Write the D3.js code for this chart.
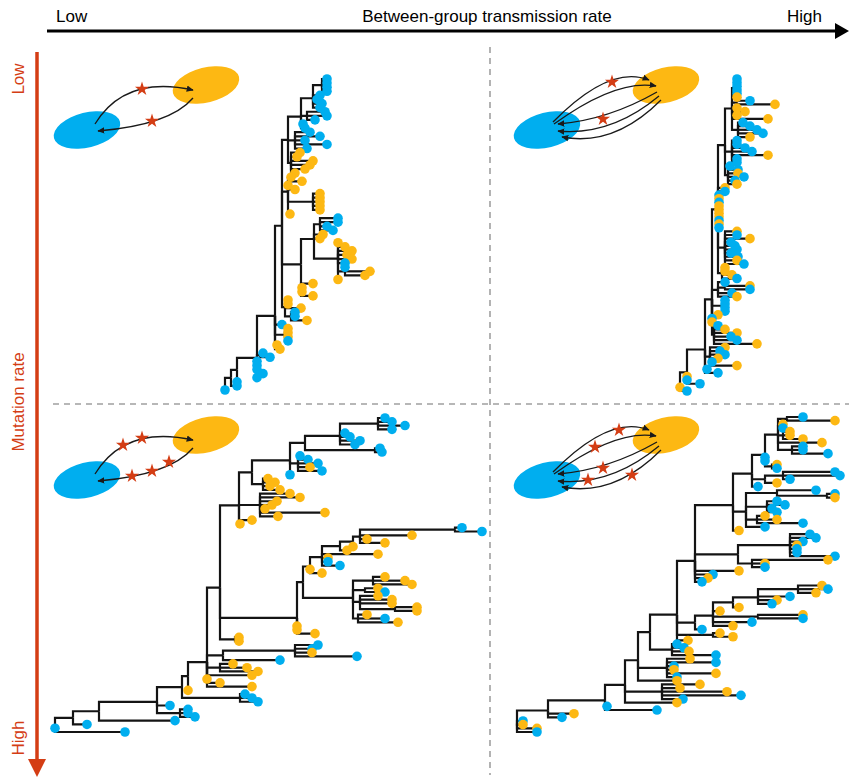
<!DOCTYPE html>
<html>
<head>
<meta charset="utf-8">
<script src="https://cdn.jsdelivr.net/npm/d3@7"></script>
<style>
  html, body { margin: 0; padding: 0; background: #fff; }
  svg { display: block; }
</style>
</head>
<body>
<svg id="chart" width="849" height="778"></svg>
<script>
// ---------------------------------------------------------------------------
// Data
// ---------------------------------------------------------------------------
// Axis labels
const transmissionLabels = ["Low", "Between-group transmission rate", "High"];
const mutationLabels = ["Low", "Mutation rate", "High"];

// Tip group of every sampled sequence: b = group 1 (blue), o = group 2 (orange)
const groupKeys = ["b", "o"];
const groupColors = ["#00AEEF", "#FDB813"];

// Number of between-group transmissions and mutations drawn in each inset
// (order: low/low, high/low, low/high, high/high  as transmission/mutation)
const transmissionsAB = [1, 2, 1, 2];
const transmissionsBA = [1, 3, 1, 3];
const mutationMarks = [2, 2, 5, 5];

// Phylogenies in Newick form. Every node carries its divergence from the root
// (after the colon) instead of a branch length.

// low transmission, low mutation
const treeLowLow =
  "((((((" +
  "((((b:102,b:102,b:102,b:102):97,b:95,b:92,b:97,b:95):88,(b:100,b:102,b:90):82,b:78,b:80):76," +
  "(b:85,b:95,b:80,b:102,b:82):70,(o:75,o:72,o:88,o:85,o:80,o:70):66):63," +
  "(o:66,o:77,o:63,o:70,(o:95,o:95,o:95,o:95,o:95):88,o:65):63," +
  "(((b:113,b:113,b:102,b:108):95,o:98,o:95,(o:113,o:120,o:127,o:122,o:127,b:120,(b:120,o:145,o:140):120,o:113):113):89," +
  "(o:88,o:77,o:77,o:88):76):76," +
  "(o:63,o:63,o:76,(b:70,b:70,o:82):66):60" +
  "):57,b:57,(o:63,o:63,o:63,b:63):60,o:52,o:55):50," +
  "(b:38,b:45):35,b:32,b:32,(b:32,b:38):32,b:32):32," +
  "b:12):12,b:12):6,b:0):0";

// high transmission, low mutation
const treeHighLow =
  "(((((" +
  "(((b:57,b:57,b:57,b:57,b:57,o:57):55,(b:70,o:95):57,(o:57,o:65,o:57,o:88):54,(b:63,b:70,b:77,b:83,o:70):58):52," +
  "(b:57,b:57,b:65,b:72,o:88,b:57,b:57):52,(b:50,b:58,o:58,b:64,b:55,o:57):48):45," +
  "o:45,b:45,(b:39,o:39,b:39,o:39,o:39,o:39,o:39,b:39,o:39,b:39):38," +
  "(o:57,b:57,o:70,b:51,b:55,b:57,b:51,b:58,o:57,b:64):45,(o:45,o:45,o:52,b:57):42):38," +
  "(b:45,(o:70,b:70):45,b:52,o:57):38,(b:45,b:45,b:45,b:45):44,o:38,b:32,o:32," +
  "(b:38,o:45,o:57,b:51,b:57,o:77):34):32," +
  "(o:45,b:40,b:45,o:38,b:32,o:57):30,b:27,b:38):25," +
  "o:7,b:7,b:20):7,o:0,b:7):0";

// low transmission, high mutation
const cladeUpper =
  "((((((b:330,b:337,b:350,b:337):323,b:290,b:295,b:305,b:300):285,(b:325,b:327):320):250," +
  "(b:245,b:253,b:263,o:255,b:267):243,b:235):235,(o:213,o:220,o:215,o:225):208):197," +
  "(o:235,o:245,o:222,o:217,o:210,o:270,o:223):205,o:197,o:185):184";
const cladeMiddle =
  "((((((((b:407,b:427):400,o:357,o:312,o:330):305,o:298):298,o:292):285,o:323,o:273,b:273,b:285):267,o:255,o:267):255," +
  "((o:330,o:350,o:357):318,(o:323,b:330):310,(o:323,o:337,o:337,(o:362,o:362):340):305,(o:312,b:330,o:343):303):298):248," +
  "o:242,o:242,o:260):242";
const treeLowHigh =
  "(((((((" +
  "(" + cladeUpper + "," + cladeMiddle + ",(o:184,o:184):180):165," +
  "((b:263,b:257,o:257,b:302):240,b:225):168,(o:178,o:192,o:203):165,o:197,o:152,o:165,o:197):152," +
  "o:133):133," +
  "(b:190,b:197,b:203):185):127," +
  "b:115,(b:133,b:133,b:140):125):102," +
  "b:120):44," +
  "b:32):18," +
  "b:0,b:70):0";

// high transmission, high mutation
const cladeTop =
  "(((b:286,o:318):270,(o:266,b:266):263,(o:273,o:273,o:286):266,o:305,(b:286,b:286,b:311):275):261," +
  "b:248,b:248,(o:260,b:260):255):248";
const cladeTopB = "((b:318,b:323,b:273):266,o:260):248";
const cladeSide = "((b:299,(b:318,o:318):310):260,(b:260,b:268,b:255,b:260):250,(o:248,o:260,b:286):240,b:248):229";
const cladeRight = "((b:293,b:299,b:286,o:280,b:280,b:280,b:318):273,(o:311,o:248,b:248):235):221";
const cladeLower = "(((((o:305,b:311,o:299):281,b:273,o:260,b:255):241,o:222):216,o:203,(o:286,b:286):241,b:235,o:216):196,b:185):178";
const treeHighHigh =
  "((((((((" +
  "((" + cladeTop + "," + cladeTopB + ",b:241):235," + cladeSide + ",o:222):216," + cladeRight + ",o:222,b:196,o:191,b:185):178," +
  cladeLower + ",(o:203,o:216):196,o:171):160," +
  "(b:160,b:167,o:172,b:199):155):133," +
  "(o:173,b:199,b:157,o:157,o:199,b:160):150,o:160):121," +
  "(o:183,o:163,o:210,b:224,b:166):145,o:160):108," +
  "b:90,b:140):88," +
  "o:57,b:45):31," +
  "b:6,o:6,o:20,b:20):0";

const treeStrings = [treeLowLow, treeHighLow, treeLowHigh, treeHighHigh];

// ---------------------------------------------------------------------------
// Layout
// ---------------------------------------------------------------------------
const W = 849, H = 778;
const red = "#D43D14";
const font = "'Liberation Sans', Arial, Helvetica, sans-serif";

// Where each tree sits: root position and the vertical band of its tips
const panels = [
  { rootX: 225, yTop: 79, yBottom: 390, dx: 0,   dy: 0 },
  { rootX: 680, yTop: 79, yBottom: 391, dx: 460, dy: 0 },
  { rootX: 55,  yTop: 418, yBottom: 732, dx: 0,   dy: 350 },
  { rootX: 517, yTop: 417, yBottom: 732, dx: 460, dy: 350 }
];
const pxPerUnit = 1;

const color = d3.scaleOrdinal().domain(groupKeys).range(groupColors);

const svg = d3.select("#chart");

// ---------------------------------------------------------------------------
// Newick reader (node value = divergence from root)
// ---------------------------------------------------------------------------
function parseNewick(str) {
  const s = str.replace(/\s+/g, "");
  let i = 0;
  function readNode() {
    const node = { name: "", depth: 0, children: [] };
    if (s[i] === "(") {
      i++;
      for (;;) {
        node.children.push(readNode());
        const c = s[i++];
        if (c === ")") break;
      }
    }
    let start = i;
    while (i < s.length && !":,()".includes(s[i])) i++;
    node.name = s.slice(start, i);
    if (s[i] === ":") {
      i++;
      start = i;
      while (i < s.length && !",()".includes(s[i])) i++;
      node.depth = +s.slice(start, i);
    }
    return node;
  }
  return readNode();
}

// ---------------------------------------------------------------------------
// Background guides
// ---------------------------------------------------------------------------
const guides = svg.append("g").attr("stroke", "#a0a0a0").attr("stroke-width", 1.6)
  .attr("stroke-dasharray", "6,5");
guides.append("line").attr("x1", 490).attr("x2", 490).attr("y1", 47).attr("y2", 775);
guides.append("line").attr("x1", 53).attr("x2", W).attr("y1", 404).attr("y2", 404);

// ---------------------------------------------------------------------------
// Axes (arrows with labels)
// ---------------------------------------------------------------------------
const topAxis = svg.append("g");
topAxis.append("line").attr("x1", 47).attr("x2", 838).attr("y1", 31).attr("y2", 31)
  .attr("stroke", "#000").attr("stroke-width", 3.2);
topAxis.append("path").attr("d", "M835,23L849,31L835,39Z").attr("fill", "#000");
const topPos = [{ x: 56, a: "start" }, { x: 487, a: "middle" }, { x: 822, a: "end" }];
topAxis.selectAll("text").data(transmissionLabels).join("text")
  .attr("x", (d, i) => topPos[i].x).attr("y", 22)
  .attr("text-anchor", (d, i) => topPos[i].a)
  .attr("font-family", font).attr("font-size", 17).attr("fill", "#000")
  .text(d => d);

const leftAxis = svg.append("g");
leftAxis.append("line").attr("x1", 37).attr("x2", 37).attr("y1", 52).attr("y2", 762)
  .attr("stroke", red).attr("stroke-width", 3.5);
leftAxis.append("path").attr("d", "M28,759L46,759L37,777Z").attr("fill", red);
const leftPos = [{ y: 79 }, { y: 402 }, { y: 738 }];
leftAxis.selectAll("text").data(mutationLabels).join("text")
  .attr("transform", (d, i) => `translate(24,${leftPos[i].y}) rotate(-90)`)
  .attr("text-anchor", "middle")
  .attr("font-family", font).attr("font-size", 17).attr("fill", red)
  .text(d => d);

// ---------------------------------------------------------------------------
// Inset schematics: two host groups with transmission arrows and mutations
// ---------------------------------------------------------------------------
const defs = svg.append("defs");
defs.append("marker").attr("id", "head").attr("viewBox", "0 -5 10 10")
  .attr("refX", 9).attr("refY", 0).attr("markerWidth", 7).attr("markerHeight", 7)
  .attr("markerUnits", "userSpaceOnUse").attr("orient", "auto")
  .append("path").attr("d", "M0,-4.5L10,0L0,4.5Z").attr("fill", "#1a1a1a");

// arrow geometry (local coordinates of the first inset)
const arrowsAB1 = [[[95, 124], [125, 75], [193, 90]]];
const arrowsAB2 = [
  [[93, 122], [150, 64], [189, 80]],
  [[94, 124], [156, 79], [196, 86]]
];
const arrowsBA1 = [[[193, 98], [170, 125], [98, 131]]];
const arrowsBA3 = [
  [[197, 92], [148, 120], [98, 124]],
  [[199, 96], [151, 136], [98, 131]],
  [[201, 100], [154, 147], [102, 137]]
];
// mutation positions per inset
const starSpots = [
  [[142, 89], [152, 121]],
  [[152, 82], [143, 119]],
  [[123, 95], [142, 88], [169, 112], [152, 121], [132, 126]],
  [[159, 80], [135, 97], [143, 118], [172, 125], [128, 130]]
];

const star = d3.symbol().type(d3.symbolStar).size(62)();

panels.forEach((p, k) => {
  const g = svg.append("g").attr("transform", `translate(${p.dx},${p.dy})`);
  g.append("ellipse").attr("cx", 87).attr("cy", 130).attr("rx", 34).attr("ry", 17.5)
    .attr("transform", "rotate(-14 87 130)").attr("fill", color("b"));
  g.append("ellipse").attr("cx", 206).attr("cy", 85).attr("rx", 34).attr("ry", 17.5)
    .attr("transform", "rotate(-14 206 85)").attr("fill", color("o"));
  const ab = transmissionsAB[k] > 1 ? arrowsAB2 : arrowsAB1;
  const ba = transmissionsBA[k] > 1 ? arrowsBA3 : arrowsBA1;
  const q = d => `M${d[0][0]},${d[0][1]}Q${d[1][0]},${d[1][1]} ${d[2][0]},${d[2][1]}`;
  g.selectAll("path.arr").data(ab.concat(ba)).join("path").attr("class", "arr")
    .attr("d", q).attr("fill", "none").attr("stroke", "#1a1a1a").attr("stroke-width", 1.3)
    .attr("marker-end", "url(#head)");
  g.selectAll("path.mut").data(starSpots[k].slice(0, mutationMarks[k])).join("path").attr("class", "mut")
    .attr("d", star).attr("transform", d => `translate(${d[0]},${d[1]})`)
    .attr("fill", red);
});

// ---------------------------------------------------------------------------
// Trees (rectangular layout; an internal node sits at the mean height of its children)
// ---------------------------------------------------------------------------
panels.forEach((p, k) => {
  const root = d3.hierarchy(parseNewick(treeStrings[k]),
    d => (d.children && d.children.length ? d.children : null));
  const leaves = root.leaves();
  const y = d3.scalePoint().domain(d3.range(leaves.length)).range([p.yTop, p.yBottom]);
  const maxDepth = d3.max(leaves, d => d.data.depth);
  const x = d3.scaleLinear().domain([0, maxDepth]).range([p.rootX, p.rootX + maxDepth * pxPerUnit]);

  leaves.forEach((l, i) => { l.py = y(i); });
  root.eachAfter(n => {
    if (n.children) n.py = d3.mean(n.children, c => c.py);
  });
  root.each(n => { n.px = x(n.data.depth); });

  const g = svg.append("g");
  g.append("g").selectAll("path").data(root.links()).join("path")
    .attr("d", l => `M${l.source.px},${l.source.py}V${l.target.py}H${l.target.px}`)
    .attr("fill", "none").attr("stroke", "#141414").attr("stroke-width", 2.2)
    .attr("stroke-linejoin", "miter");
  g.append("g").selectAll("circle").data(leaves).join("circle")
    .attr("cx", d => d.px).attr("cy", d => d.py).attr("r", 4.8)
    .attr("fill", d => color(d.data.name));
});
</script>
</body>
</html>
